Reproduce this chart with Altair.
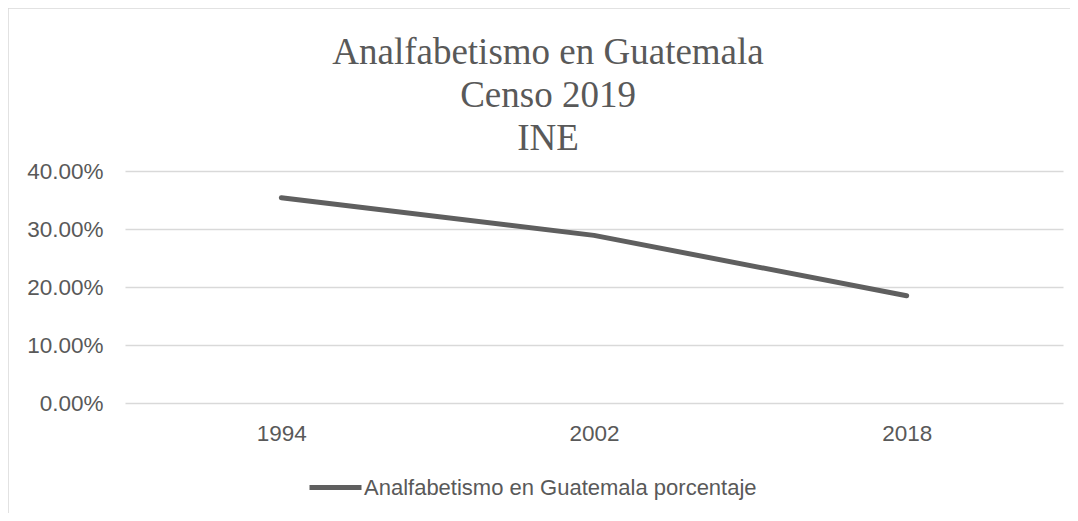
import altair as alt
import pandas as pd

years = ["1994", "2002", "2018"]
values = [0.354, 0.289, 0.185]
series_name = "Analfabetismo en Guatemala porcentaje"
title_lines = ["Analfabetismo en Guatemala", "Censo 2019", "INE"]

df = pd.DataFrame({"year": years, "value": values, "serie": [series_name] * len(years)})

W, H = 938, 232
PL, PT, PR, PB = 117, 163, 7, 110

line = alt.Chart(df).mark_line(strokeWidth=5, strokeCap="round", strokeJoin="round").encode(
    x=alt.X("year:O", sort=years, title=None,
            scale=alt.Scale(type="point", padding=0.5),
            axis=alt.Axis(labelAngle=0, domain=False, ticks=False, labelPadding=19,
                          labelFontSize=22.5, labelColor="#595959", labelFont="Liberation Sans")),
    y=alt.Y("value:Q", title=None,
            scale=alt.Scale(domain=[0, 0.4], nice=False),
            axis=alt.Axis(format=".2%", values=[0, 0.1, 0.2, 0.3, 0.4], domain=False, ticks=False,
                          labelPadding=22, labelFontSize=22.5, labelColor="#595959",
                          labelFont="Liberation Sans", gridColor="#d9d9d9", gridWidth=1.3)),
    color=alt.Color("serie:N", scale=alt.Scale(range=["#5f5f5f"]),
                    legend=alt.Legend(title=None, orient="none", legendX=182, legendY=288,
                                      symbolType="stroke", symbolSize=2704, symbolStrokeWidth=5,
                                      labelFontSize=22, labelColor="#595959", labelFont="Liberation Sans",
                                      labelOffset=0, labelLimit=0, padding=0)),
)

base = alt.Chart(pd.DataFrame({"a": [0]}))

frame = base.mark_rect(fill=None, stroke="#d9d9d9", strokeWidth=1.5).encode(
    x=alt.value(-PL), x2=alt.value(W + PR + 40), y=alt.value(-PT), y2=alt.value(H + PB + 40)
)

title = base.mark_text(font="Liberation Serif", fontSize=37, lineHeight=43, color="#595959",
                       align="center", baseline="alphabetic").encode(
    text=alt.value(title_lines), x=alt.value(548 - 125), y=alt.value(64 - 171)
)

chart = alt.layer(frame, title, line).properties(
    width=W, height=H,
    autosize=alt.AutoSizeParams(type="none"),
    padding={"left": PL, "top": PT, "right": PR, "bottom": PB},
).configure_view(stroke=None)

chart.save("out.html", embed_options={"renderer": "svg", "actions": False})
